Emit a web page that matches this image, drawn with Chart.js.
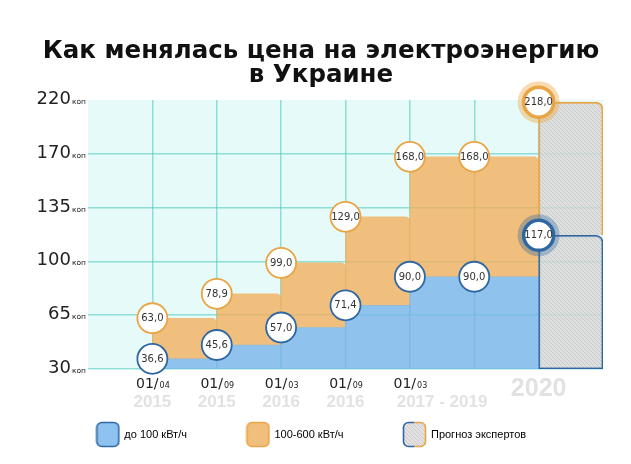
<!DOCTYPE html>
<html lang="ru">
<head>
<meta charset="utf-8">
<title>Как менялась цена на электроэнергию в Украине</title>
<script src="https://cdn.jsdelivr.net/npm/chart.js@4.4.1/dist/chart.umd.min.js"></script>
<style>
  html, body { margin: 0; padding: 0; background: #fff; }
  #wrap { width: 631px; height: 464px; }
</style>
</head>
<body>
<div id="wrap"><canvas id="grafico" width="631" height="464"></canvas></div>
<script>
const title = ["Как менялась цена на электроэнергию", "в Украине"];
const yTicks = [30, 65, 100, 135, 170, 220];
const periods = ["01/04", "01/09", "01/03", "01/09", "01/03", ""];
const years = ["2015", "2015", "2016", "2016", "2017 - 2019", ""];
const upTo100 = [36.6, 45.6, 57.0, 71.4, 90.0, 90.0];
const from100to600 = [63.0, 78.9, 99.0, 129.0, 168.0, 168.0];
const forecastYear = "2020";
const forecastUpTo100 = 117.0;
const forecastFrom100 = 218.0;
const legendLabels = ["до 100 кВт/ч", "100-600 кВт/ч", "Прогноз экспертов"];

const FONT = "DejaVu Sans";
const BLUE = "rgba(121,181,235,0.8)";
const ORANGE = "rgba(242,175,94,0.8)";
const BLUE_LINE = "#2f67a3";
const ORANGE_LINE = "#e9a443";
const GRID = "rgba(70,200,188,0.55)";

// the axis in the picture has evenly spaced ticks that are not evenly spaced values
class PiecewiseScale extends Chart.LinearScale {
    buildTicks() {
        return yTicks.map(v => ({ value: v }));
    }
    getPixelForValue(value) {
        let i = 0;
        while (i < yTicks.length - 2 && value > yTicks[i + 1]) i++;
        const frac = i + (value - yTicks[i]) / (yTicks[i + 1] - yTicks[i]);
        return this.getPixelForDecimal(frac / (yTicks.length - 1));
    }
    getValueForPixel(pixel) {
        const d = this.getDecimalForPixel(pixel) * (yTicks.length - 1);
        const i = Math.min(Math.floor(d), yTicks.length - 2);
        return yTicks[i] + (d - i) * (yTicks[i + 1] - yTicks[i]);
    }
}
PiecewiseScale.id = "piecewise";
PiecewiseScale.defaults = Chart.LinearScale.defaults;
Chart.register(PiecewiseScale);

function hatch() {
    const c = document.createElement("canvas");
    c.width = 4; c.height = 4;
    const g = c.getContext("2d");
    g.fillStyle = "rgba(220,218,218,0.8)";
    g.fillRect(0, 0, 4, 4);
    g.strokeStyle = "rgba(165,165,165,0.55)";
    g.lineWidth = 0.7;
    g.beginPath();
    g.moveTo(-1, -1); g.lineTo(5, 5);
    g.moveTo(-1, 3); g.lineTo(1, 5);
    g.moveTo(3, -1); g.lineTo(5, 1);
    g.stroke();
    return g.createPattern(c, "repeat");
}
const ctx = document.getElementById("grafico").getContext("2d");
const hatchFill = hatch();

function swatch(fill, left, right) {
    const c = document.createElement("canvas");
    c.width = 25; c.height = 27;
    const g = c.getContext("2d");
    g.beginPath();
    g.roundRect(1.5, 1.5, 22, 24, 5);
    g.fillStyle = fill;
    g.fill();
    g.lineWidth = 1.6;
    g.save();
    g.beginPath(); g.rect(0, 0, 12.5, 27); g.clip();
    g.beginPath(); g.roundRect(1.5, 1.5, 22, 24, 5);
    g.strokeStyle = left; g.stroke();
    g.restore();
    g.save();
    g.beginPath(); g.rect(12.5, 0, 13, 27); g.clip();
    g.beginPath(); g.roundRect(1.5, 1.5, 22, 24, 5);
    g.strokeStyle = right; g.stroke();
    g.restore();
    return c;
}
const swatches = [
    swatch("#8ec3ef", BLUE_LINE, BLUE_LINE),
    swatch("#f0bf7e", ORANGE_LINE, ORANGE_LINE),
    swatch(hatchFill, BLUE_LINE, ORANGE_LINE)
];

const forecastX = upTo100.length + 1;

const plotBackground = {
    id: "plotBackground",
    beforeDraw(chart) {
        const a = chart.chartArea;
        chart.ctx.save();
        chart.ctx.fillStyle = "#e6faf9";
        chart.ctx.fillRect(a.left, a.top, a.right - a.left, a.bottom - a.top);
        chart.ctx.restore();
    }
};

const headline = {
    id: "headline",
    afterDraw(chart) {
        const c = chart.ctx;
        c.save();
        c.fillStyle = "#111";
        c.font = "bold 24.5px '" + FONT + "'";
        c.textAlign = "center";
        c.textBaseline = "middle";
        title.forEach((line, i) => c.fillText(line, 321, 52 + i * 24));
        c.restore();
    }
};

const circleLabels = {
    id: "circleLabels",
    afterDatasetsDraw(chart) {
        const c = chart.ctx;
        c.save();
        c.fillStyle = "#333";
        c.font = "10px '" + FONT + "'";
        c.textAlign = "center";
        c.textBaseline = "middle";
        chart.data.datasets.forEach((ds, i) => {
            if (!ds.circleLabels) return;
            chart.getDatasetMeta(i).data.forEach((el, j) => {
                c.fillText(ds.data[j].y.toFixed(1).replace(".", ","), el.x, el.y + 0.5);
            });
        });
        c.restore();
    }
};

const axisLabels = {
    id: "axisLabels",
    afterDraw(chart) {
        const c = chart.ctx;
        const ys = chart.scales.y;
        const xs = chart.scales.x;
        c.save();
        c.fillStyle = "#222";
        c.textBaseline = "alphabetic";
        ys.ticks.forEach((t, i) => {
            const y = ys.getPixelForTick(i) + 4;
            c.font = "7.5px '" + FONT + "'";
            c.textAlign = "right";
            const kw = c.measureText("коп").width;
            c.fillText("коп", 86, y);
            c.font = "18px '" + FONT + "'";
            c.fillText(String(t.value), 85 - kw, y);
        });
        c.textAlign = "left";
        periods.forEach((p, i) => {
            if (!p) return;
            const [day, month] = p.split("/");
            const x = xs.getPixelForValue(i + 1);
            c.font = "14px '" + FONT + "'";
            const w1 = c.measureText(day + "/").width;
            c.font = "8px '" + FONT + "'";
            const w2 = c.measureText(month).width;
            const x0 = x - (w1 + w2) / 2;
            c.fillStyle = "#222";
            c.font = "14px '" + FONT + "'";
            c.fillText(day + "/", x0, 388);
            c.font = "8px '" + FONT + "'";
            c.fillText(month, x0 + w1 + 1, 388);
        });
        c.textAlign = "center";
        c.fillStyle = "#e2e2e2";
        c.font = "bold 17px 'Liberation Sans'";
        years.forEach((yr, i) => {
            if (!yr) return;
            let x = xs.getPixelForValue(i + 1);
            if (i + 1 < years.length && years[i + 1] === "") {
                x = (x + xs.getPixelForValue(i + 2)) / 2;
            }
            c.fillText(yr, x, 407);
        });
        c.font = "bold 25px 'Liberation Sans'";
        c.fillText(forecastYear, xs.getPixelForValue(forecastX), 396);
        c.restore();
    }
};

new Chart(ctx, {
    type: "bar",
    data: {
        datasets: [
            {
                label: legendLabels[0],
                data: upTo100.map((v, i) => ({ x: i + 1.5, y: [yTicks[0], v] })),
                backgroundColor: BLUE,
                grouped: false,
                order: 10,
                barPercentage: 1,
                categoryPercentage: 1
            },
            {
                label: legendLabels[1],
                data: from100to600.map((v, i) => ({ x: i + 1.5, y: [upTo100[i], v] })),
                backgroundColor: ORANGE,
                borderRadius: { topRight: 5 },
                grouped: false,
                order: 10,
                barPercentage: 1,
                categoryPercentage: 1
            },
            {
                label: legendLabels[2],
                data: [{ x: forecastX + 0.5, y: [yTicks[0], forecastUpTo100] }],
                backgroundColor: hatchFill,
                borderColor: BLUE_LINE,
                borderWidth: 1.6,
                borderSkipped: false,
                borderRadius: { topRight: 7 },
                grouped: false,
                order: 9,
                barPercentage: 1,
                categoryPercentage: 1
            },
            {
                label: legendLabels[2],
                data: [{ x: forecastX + 0.5, y: [forecastUpTo100, forecastFrom100] }],
                backgroundColor: hatchFill,
                borderColor: ORANGE_LINE,
                borderWidth: 1.6,
                borderSkipped: "bottom",
                borderRadius: { topRight: 7 },
                grouped: false,
                order: 9,
                barPercentage: 1,
                categoryPercentage: 1
            },
            {
                type: "line",
                data: [{ x: forecastX, y: forecastUpTo100 }],
                showLine: false,
                pointRadius: 21,
                pointBackgroundColor: "rgba(47,103,163,0.35)",
                pointBorderWidth: 0,
                clip: false,
                order: 5
            },
            {
                type: "line",
                data: [{ x: forecastX, y: forecastFrom100 }],
                showLine: false,
                pointRadius: 21,
                pointBackgroundColor: "rgba(240,165,60,0.4)",
                pointBorderWidth: 0,
                clip: false,
                order: 5
            },
            {
                type: "line",
                data: upTo100.map((v, i) => ({ x: i + 1, y: v })),
                showLine: false,
                pointRadius: 15,
                pointBackgroundColor: "#fff",
                pointBorderColor: BLUE_LINE,
                pointBorderWidth: 1.8,
                clip: false,
                circleLabels: true,
                order: 1
            },
            {
                type: "line",
                data: from100to600.map((v, i) => ({ x: i + 1, y: v })),
                showLine: false,
                pointRadius: 15,
                pointBackgroundColor: "#fff",
                pointBorderColor: ORANGE_LINE,
                pointBorderWidth: 1.8,
                clip: false,
                circleLabels: true,
                order: 1
            },
            {
                type: "line",
                data: [{ x: forecastX, y: forecastUpTo100 }],
                showLine: false,
                pointRadius: 15,
                pointBackgroundColor: "#fff",
                pointBorderColor: BLUE_LINE,
                pointBorderWidth: 3.5,
                clip: false,
                circleLabels: true,
                order: 1
            },
            {
                type: "line",
                data: [{ x: forecastX, y: forecastFrom100 }],
                showLine: false,
                pointRadius: 15,
                pointBackgroundColor: "#fff",
                pointBorderColor: ORANGE_LINE,
                pointBorderWidth: 3.5,
                clip: false,
                circleLabels: true,
                order: 1
            }
        ]
    },
    options: {
        responsive: false,
        animation: false,
        layout: { padding: { left: 20, right: 28, top: 100, bottom: 14 } },
        scales: {
            x: {
                type: "linear",
                min: 0,
                max: 8,
                offset: false,
                ticks: { display: false, stepSize: 1 },
                border: { display: false },
                grid: {
                    offset: false,
                    drawTicks: false,
                    lineWidth: 1.5,
                    color: c => (c.tick && c.tick.value >= 1 && c.tick.value <= forecastX) ? GRID : "transparent"
                }
            },
            y: {
                type: "piecewise",
                min: yTicks[0],
                max: yTicks[yTicks.length - 1],
                afterFit: s => { s.width = 68; },
                ticks: { display: false },
                border: { display: false },
                grid: {
                    drawTicks: false,
                    lineWidth: 1.5,
                    color: c => c.index === yTicks.length - 1 ? "transparent" : GRID
                }
            }
        },
        plugins: {
            tooltip: { enabled: false },
            title: { display: false },
            legend: {
                display: true,
                position: "bottom",
                onClick: null,
                labels: {
                    usePointStyle: true,
                    pointStyleWidth: 22,
                    padding: 60,
                    color: "#333",
                    font: { family: "Liberation Sans", size: 11 },
                    generateLabels: () => legendLabels.map((t, i) => ({
                        text: t,
                        pointStyle: swatches[i],
                        fillStyle: "transparent",
                        strokeStyle: "transparent",
                        lineWidth: 0,
                        hidden: false,
                        datasetIndex: i
                    }))
                }
            }
        }
    },
    plugins: [plotBackground, headline, circleLabels, axisLabels]
});
</script>
</body>
</html>
